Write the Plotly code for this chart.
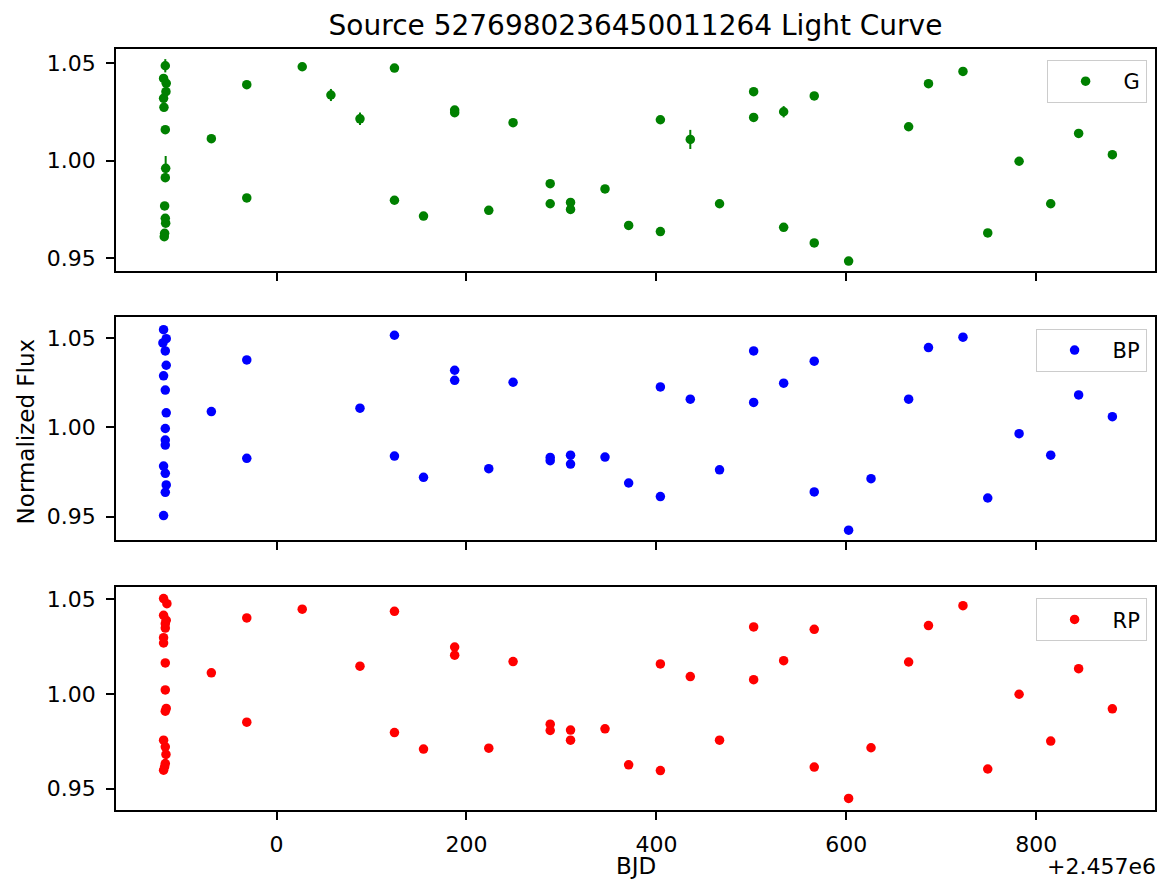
import plotly.graph_objects as go

# BJD values are shown relative to the axis offset +2.457e6
OFFSET_TEXT = "+2.457e6"
TITLE = "Source 5276980236450011264 Light Curve"

# ---- G band ----
g_x = [-117.1, -118.9, -116.1, -116.4, -118.9, -118.5, -117.1, -116.7, -117.1, -117.8, -117.1, -116.7, -117.8, -118.2,
       -68.6, -31.3, -31.3, 27.1, 57.3, 87.9, 124.2, 124.2, 154.8, 187.6, 187.6, 223.5, 249.1, 288.2, 288.2,
       309.6, 309.6, 345.9, 370.8, 404.2, 404.2, 435.7, 466.5, 502.4, 502.4, 534.0, 534.0, 566.2, 566.2,
       602.4, 665.6, 686.5, 722.8, 748.9, 781.9, 815.2, 844.6, 880.1]
g_y = [1.0487, 1.0422, 1.0397, 1.0354, 1.0320, 1.0274, 1.0159, 0.9961, 0.9913, 0.9768, 0.9704, 0.9679, 0.9627, 0.9610,
       1.0113, 1.0390, 0.9809, 1.0482, 1.0337, 1.0215, 1.0475, 0.9797, 0.9716, 1.0260, 1.0246, 0.9745, 1.0195, 0.9882, 0.9779,
       0.9786, 0.9750, 0.9855, 0.9668, 1.0210, 0.9636, 1.0109, 0.9779, 1.0354, 1.0222, 1.0251, 0.9658, 1.0332, 0.9578,
       0.9485, 1.0174, 1.0395, 1.0458, 0.9629, 0.9997, 0.9779, 1.0140, 1.0031]
g_err = [0.0034, 0.0015, 0.0015, 0.0015, 0.0015, 0.0015, 0.0015, 0.0063, 0.0015, 0.0015, 0.0015, 0.0015, 0.0015, 0.0015,
         0.0015, 0.0015, 0.0015, 0.0015, 0.0031, 0.0032, 0.0015, 0.0015, 0.0015, 0.0015, 0.0015, 0.0015, 0.0015, 0.0015, 0.0015,
         0.0015, 0.0015, 0.0015, 0.0015, 0.0015, 0.0015, 0.0049, 0.0015, 0.0015, 0.0015, 0.0029, 0.0015, 0.0015, 0.0015,
         0.0015, 0.0015, 0.0015, 0.0015, 0.0015, 0.0015, 0.0015, 0.0015, 0.0015]

# ---- BP band ----
bp_x = [-118.9, -116.1, -119.6, -117.1, -116.1, -118.9, -117.1, -116.1, -117.1, -117.1, -117.1, -118.9, -117.1, -116.1, -117.1, -118.9,
        -68.6, -31.3, -31.3, 87.9, 124.2, 124.2, 154.8, 187.6, 187.6, 223.5, 249.1, 288.2, 288.2, 309.6, 309.6,
        345.9, 370.8, 404.2, 404.2, 435.7, 466.5, 502.4, 502.4, 534.0, 566.2, 566.2, 602.4, 626.0, 665.6,
        686.5, 722.8, 748.9, 781.9, 815.2, 844.6, 880.1]
bp_y = [1.0547, 1.0497, 1.0473, 1.0428, 1.0348, 1.0289, 1.0209, 1.0082, 0.9994, 0.9929, 0.9901, 0.9784, 0.9743, 0.9678, 0.9637, 0.9507,
        1.0089, 1.0378, 0.9827, 1.0108, 1.0516, 0.9840, 0.9721, 1.0320, 1.0264, 0.9769, 1.0253, 0.9832, 0.9814, 0.9845, 0.9795,
        0.9834, 0.9689, 1.0227, 0.9613, 1.0158, 0.9763, 1.0428, 1.0140, 1.0248, 1.0371, 0.9639, 0.9425, 0.9713, 1.0158,
        1.0447, 1.0505, 0.9605, 0.9965, 0.9845, 1.0182, 1.0060]
bp_err = [0.0012] * len(bp_y)

# ---- RP band ----
rp_x = [-118.9, -115.4, -118.9, -116.1, -117.1, -117.1, -118.9, -118.9, -117.1, -117.1, -116.1, -117.1, -118.9, -117.1, -116.4, -117.1, -117.8, -118.9,
        -68.6, -31.3, -31.3, 27.1, 87.9, 124.2, 124.2, 154.8, 187.6, 187.6, 223.5, 249.1, 288.2, 288.2, 309.6, 309.6,
        345.9, 370.8, 404.2, 404.2, 435.7, 466.5, 502.4, 502.4, 534.0, 566.2, 566.2, 602.4, 626.0, 665.6,
        686.5, 722.8, 748.9, 781.9, 815.2, 844.6, 880.1]
rp_y = [1.0502, 1.0475, 1.0414, 1.0388, 1.0370, 1.0347, 1.0296, 1.0268, 1.0163, 1.0021, 0.9923, 0.9909, 0.9756, 0.9721, 0.9681, 0.9633, 0.9616, 0.9598,
        1.0111, 1.0400, 0.9851, 1.0446, 1.0146, 1.0435, 0.9796, 0.9709, 1.0247, 1.0204, 0.9714, 1.0170, 0.9840, 0.9807, 0.9809, 0.9756,
        0.9816, 0.9626, 1.0158, 0.9596, 1.0091, 0.9756, 1.0353, 1.0075, 1.0175, 1.0340, 0.9614, 0.9449, 0.9716, 1.0168,
        1.0360, 1.0465, 0.9604, 0.9998, 0.9751, 1.0133, 0.9921]
rp_err = [0.0012] * len(rp_y)

x_ticks = [0, 200, 400, 600, 800]
y_ticks = [0.95, 1.00, 1.05]

FONT = "DejaVu Sans"
bands = [
    ("G", g_x, g_y, g_err, "#008000", "x", "y", "legend"),
    ("BP", bp_x, bp_y, bp_err, "#0000ff", "x2", "y2", "legend2"),
    ("RP", rp_x, rp_y, rp_err, "#ff0000", "x3", "y3", "legend3"),
]

fig = go.Figure()
for name, xs, ys, es, col, xa, ya, lg in bands:
    fig.add_trace(go.Scatter(
        x=xs, y=ys, mode="markers", name=name,
        marker=dict(color=col, size=9.5, line=dict(width=0)),
        error_y=dict(type="data", array=es, visible=True, color=col, thickness=2, width=0),
        xaxis=xa, yaxis=ya, legend=lg, showlegend=True,
    ))

axis_common = dict(
    showline=True, mirror=True, linecolor="black", linewidth=1.5,
    ticks="outside", ticklen=8, tickwidth=1.5, tickcolor="black",
    showgrid=False, zeroline=False,
    tickfont=dict(family=FONT, size=22, color="black"),
)

xr = [-169, 925]
fig.update_layout(
    width=1163, height=884,
    margin=dict(l=116, r=6, t=49, b=74),
    plot_bgcolor="white", paper_bgcolor="white",
    font=dict(family=FONT, color="black"),
    title=dict(text=TITLE, x=0.5, xref="paper", xanchor="center",
               y=1 - 25 / 884, yref="container", yanchor="middle",
               font=dict(family=FONT, size=28, color="black")),
    xaxis=dict(axis_common, domain=[0, 1], anchor="y", range=xr, tickvals=x_ticks, showticklabels=False),
    xaxis2=dict(axis_common, domain=[0, 1], anchor="y2", range=xr, tickvals=x_ticks, showticklabels=False, matches="x"),
    xaxis3=dict(axis_common, domain=[0, 1], anchor="y3", range=xr, tickvals=x_ticks, showticklabels=True,
                matches="x", ticklabelstandoff=6),
    yaxis=dict(axis_common, domain=[0.7083, 1], anchor="x", range=[0.9434, 1.0573], tickvals=y_ticks,
               tickformat=".2f", ticklabelstandoff=6),
    yaxis2=dict(axis_common, domain=[0.3548, 0.6478], anchor="x2", range=[0.9370, 1.0618], tickvals=y_ticks,
                tickformat=".2f", ticklabelstandoff=6),
    yaxis3=dict(axis_common, domain=[0, 0.2930], anchor="x3", range=[0.9388, 1.0563], tickvals=y_ticks,
                tickformat=".2f", ticklabelstandoff=6),
)

leg_common = dict(x=0.9919, xanchor="right", yanchor="top", bordercolor="#cccccc", borderwidth=1,
                  bgcolor="rgba(255,255,255,0.8)", font=dict(family=FONT, size=21, color="black"),
                  itemwidth=66)
fig.update_layout(
    legend=dict(leg_common, y=0.9855),
    legend2=dict(leg_common, y=0.6321),
    legend3=dict(leg_common, y=0.2782),
)

fig.add_annotation(text="Normalized Flux", xref="paper", yref="paper", x=(25.5 - 116) / 1041, y=0.4971,
                   xanchor="center", yanchor="middle", textangle=-90, showarrow=False,
                   font=dict(family=FONT, size=23, color="black"))
fig.add_annotation(text="BJD", xref="paper", yref="paper", x=0.5, y=-(866 - 810) / 761,
                   xanchor="center", yanchor="middle", showarrow=False,
                   font=dict(family=FONT, size=23, color="black"))
fig.add_annotation(text=OFFSET_TEXT, xref="paper", yref="paper", x=1.0, y=-(866 - 810) / 761,
                   xanchor="right", yanchor="middle", showarrow=False, xshift=3,
                   font=dict(family=FONT, size=22, color="black"))

fig.write_html("out.html")
